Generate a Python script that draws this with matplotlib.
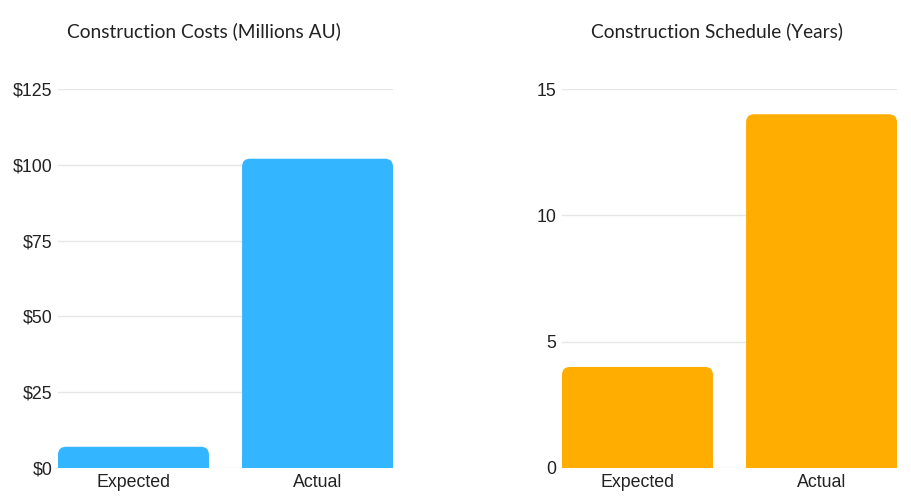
import matplotlib.pyplot as plt
from matplotlib.patches import FancyBboxPatch, Rectangle

categories = ['Expected', 'Actual']
costs = [7, 102]
years = [4, 14]
cost_ticks = [0, 25, 50, 75, 100, 125]
year_ticks = [0, 5, 10, 15]

W, H = 912, 500
fig = plt.figure(figsize=(W / 100, H / 100), dpi=100)


def rounded_bars(ax, values, color, ymax, r_px=8, width=0.82):
    ax.set_xlim(-width / 2, len(values) - 1 + width / 2)
    ax.set_ylim(0, ymax)
    bb = ax.get_position()
    ax_w = bb.width * W
    ax_h = bb.height * H
    xu = (len(values) - 1 + width) / ax_w
    yu = ymax / ax_h
    aspect = yu / xu
    r = r_px * xu
    for i, v in enumerate(values):
        x0 = i - width / 2
        box = FancyBboxPatch((x0, 0), width, v,
                             boxstyle=f'round,pad=0,rounding_size={r}',
                             mutation_aspect=aspect, fc=color, ec='none', zorder=3)
        ax.add_patch(box)
        ax.add_patch(Rectangle((x0, 0), width, min(v / 2, r_px * 1.2 * yu), fc=color,
                               ec='none', zorder=3))
    ax.set_xticks(range(len(values)))
    ax.set_xticklabels(categories)


def style(ax, ticks, labels):
    ax.set_yticks(ticks)
    ax.set_yticklabels(labels)
    for s in ax.spines.values():
        s.set_visible(False)
    ax.grid(axis='y', color='#e6e6e6', linewidth=1, zorder=0)
    ax.tick_params(length=0, labelsize=12.8, colors='#222222')
    ax.tick_params(axis='x', pad=4.5)
    ax.tick_params(axis='y', pad=4)
    for lbl in ax.get_xticklabels() + ax.get_yticklabels():
        lbl.set_fontfamily('Liberation Sans')


ax1 = fig.add_axes([58 / W, 1 - 468 / H, 335 / W, 379 / H])
rounded_bars(ax1, costs, '#33b5ff', 125)
style(ax1, cost_ticks, [f'${t}' for t in cost_ticks])

ax2 = fig.add_axes([562 / W, 1 - 468 / H, 335 / W, 379 / H])
rounded_bars(ax2, years, '#ffad00', 15)
style(ax2, year_ticks, [str(t) for t in year_ticks])

fig.text(204 / W, 1 - 31 / H, 'Construction Costs (Millions AU)', ha='center', va='center',
         fontsize=13.8, family='Lato', color='#222222')
fig.text(717 / W, 1 - 31 / H, 'Construction Schedule (Years)', ha='center', va='center',
         fontsize=13.8, family='Lato', color='#222222')

fig.savefig('out.png', dpi=100)
